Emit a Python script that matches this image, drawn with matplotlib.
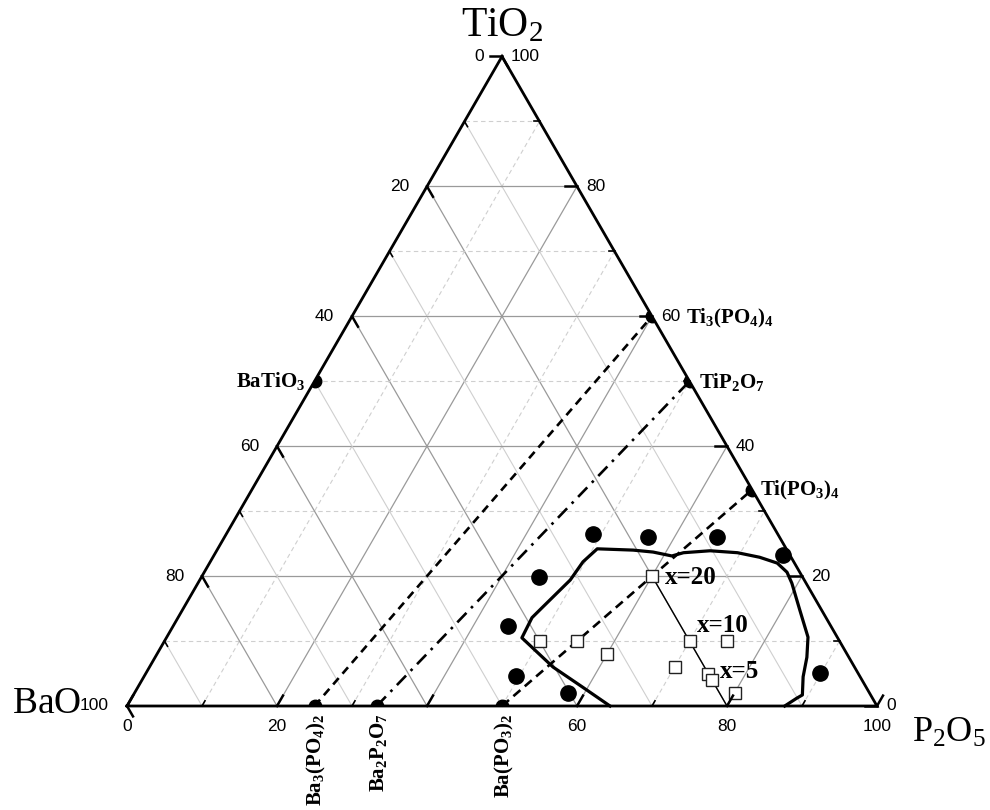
import numpy as np
import matplotlib
matplotlib.use('Agg')
import matplotlib.pyplot as plt
from matplotlib.patches import Polygon

plt.rcParams['mathtext.fontset'] = 'custom'
plt.rcParams['mathtext.rm'] = 'Liberation Serif'
plt.rcParams['mathtext.bf'] = 'Liberation Serif:bold'
plt.rcParams['mathtext.it'] = 'Liberation Serif:italic'

# ---- data (mol %, P2O5 and TiO2; BaO is the rest) ----
edge_names = [r'$\mathbf{BaTiO_3}$', r'$\mathbf{Ti_3(PO_4)_4}$', r'$\mathbf{TiP_2O_7}$',
              r'$\mathbf{Ti(PO_3)_4}$', r'$\mathbf{Ba_3(PO_4)_2}$', r'$\mathbf{Ba_2P_2O_7}$',
              r'$\mathbf{Ba(PO_3)_2}$']
edge_p2o5 = [0, 40, 50, 66.7, 25, 33.3, 50]
edge_tio2 = [50, 60, 50, 33.3, 0, 0, 0]

# tie lines: (index of BaO-P2O5 compound, index of TiO2-P2O5 compound, style)
tie_lines = [(4, 1, (0, (3.2, 2.2))), (5, 2, (0, (5, 2.5, 1, 2.5))), (6, 3, (0, (3.5, 2.2)))]

# glass-forming compositions (filled circles)
glass_p2o5 = [48.9, 56.5, 65.7, 75.9, 45.0, 44.6, 49.6, 57.8, 89.9]
glass_tio2 = [26.5, 26.0, 26.0, 23.2, 19.9, 12.3, 4.6, 2.0, 5.1]

# studied compositions (open squares)
sq_p2o5 = [60, 50, 55, 60, 70, 75, 70, 75, 76, 80]
sq_tio2 = [20, 10, 10, 8, 10, 10, 6, 5, 4, 2]

# x series line (BaO = 20)
xs_p2o5 = [60, 80]
xs_tio2 = [20, 0]

# glass region boundary
bnd_p2o5 = [64.4, 59.3, 53.8, 47.4, 47.2, 47.8, 49.4, 49.7, 50.6, 55.5, 58.3, 61.1, 62.4,
            65.8, 69.6, 72.9, 75.7, 77.7, 79.2, 82.3, 85.5, 86.9, 87.9, 89.2, 88.7, 87.7]
bnd_tio2 = [0.0, 2.9, 6.0, 10.5, 13.6, 15.2, 19.4, 22.2, 24.2, 24.0, 23.7, 23.1, 23.6,
            23.9, 23.6, 22.9, 22.0, 20.6, 18.9, 14.8, 10.6, 7.5, 4.5, 1.7, 1.2, 0.0]

bottom_labels = [0, 20, 60, 80, 100]
left_labels = [0, 20, 40, 60, 80, 100]
right_labels = [0, 20, 40, 60, 80, 100]

S3 = np.sqrt(3) / 2
PX = 1 / 750.0  # one pixel in data units


def tern(p, t):
    p = np.asarray(p, float)
    t = np.asarray(t, float)
    return p / 100 + t / 200, t / 100 * S3


fig = plt.figure(figsize=(9.9, 8.1), dpi=100)
ax = fig.add_axes([0, 0, 1, 1])
ax.set_xlim(-127 * PX, (990 - 127) * PX)
ax.set_ylim((706 - 810) * PX, 706 * PX)
ax.axis('off')

corners = np.array([[0, 0], [1, 0], [0.5, S3]])
clip = Polygon(corners, closed=True, transform=ax.transData, fc='none', ec='none')
ax.add_patch(clip)

# grid
for v in range(10, 100, 10):
    major = v % 20 == 0
    col = '#9a9a9a' if major else '#cfcfcf'
    lw = 0.9 if major else 0.8
    dash = '-' if major else (0, (4, 3))
    x, y = tern([0, 100 - v], [v, v])
    ax.plot(x, y, color=col, lw=lw, ls=dash, zorder=1)
    x, y = tern([v, v], [0, 100 - v])
    ax.plot(x, y, color=col, lw=lw, ls=dash, zorder=1)
    x, y = tern([0, 100 - v], [100 - v, 0])
    ax.plot(x, y, color=col, lw=lw, ls='-', zorder=1)

# ticks
for v in range(0, 101, 10):
    major = v % 20 == 0
    L = (12 if major else 6) * PX
    lw = 1.8 if major else 1.2
    x0, y0 = tern(v, 0)
    ax.plot([x0, x0 + 0.5 * L], [y0, y0 + S3 * L], color='k', lw=lw, zorder=6)
    x0, y0 = tern(100 - v, v)
    ax.plot([x0, x0 - L], [y0, y0], color='k', lw=lw, zorder=6)
    x0, y0 = tern(0, 100 - v)
    ax.plot([x0, x0 + 0.5 * L], [y0, y0 - S3 * L], color='k', lw=lw, zorder=6)

tick_font = dict(family='Liberation Sans', fontsize=12.5)
for v in bottom_labels:
    x0, y0 = tern(v, 0)
    ax.text(x0, y0 - 13 * PX, str(v), ha='center', va='top', **tick_font)
for v in left_labels:
    x0, y0 = tern(0, 100 - v)
    ax.text(x0 - 18 * PX, y0, str(v), ha='right', va='center', **tick_font)
for v in right_labels:
    x0, y0 = tern(100 - v, v)
    ax.text(x0 + 9 * PX, y0, str(v), ha='left', va='center', **tick_font)

# triangle frame
ax.plot([0, 1, 0.5, 0], [0, 0, S3, 0], color='k', lw=2.0, zorder=7,
        solid_joinstyle='miter')

# corner titles
ax.text(0.5, 680 * PX, r'$\mathrm{TiO_2}$', ha='center', va='center',
        family='Liberation Serif', fontsize=30)
ax.text(-115 * PX, 2 * PX, r'$\mathrm{BaO}$', ha='left', va='center',
        family='Liberation Serif', fontsize=27)
ax.text(785 * PX, -27 * PX, r'$\mathrm{P_2O_5}$', ha='left', va='center',
        family='Liberation Serif', fontsize=26)

# tie lines
for i, j, ls in tie_lines:
    x, y = tern([edge_p2o5[i], edge_p2o5[j]], [edge_tio2[i], edge_tio2[j]])
    ax.plot(x, y, color='k', lw=1.9, ls=ls, zorder=3)

# glass region boundary
x, y = tern(bnd_p2o5, bnd_tio2)
ax.plot(x, y, color='k', lw=2.3, zorder=4, solid_joinstyle='round')

# x series line
x, y = tern(xs_p2o5, xs_tio2)
ax.plot(x, y, color='k', lw=1.0, zorder=4)

# compound points on the edges, clipped to the triangle
x, y = tern(edge_p2o5, edge_tio2)
pts, = ax.plot(x, y, 'o', ms=9, color='k', zorder=5)
pts.set_clip_path(clip)

# glass compositions
x, y = tern(glass_p2o5, glass_tio2)
ax.plot(x, y, 'o', ms=11, color='k', zorder=5)

# squares
x, y = tern(sq_p2o5, sq_tio2)
ax.plot(x, y, 's', ms=9, mfc='white', mec='#222222', mew=1.0, zorder=5)

# compound labels
lab_font = dict(fontsize=15)
ax.text(-(127 - 305) * PX, (706 - 381) * PX, edge_names[0], ha='right', va='center', **lab_font)
ax.text((686 - 127) * PX, (706 - 318) * PX, edge_names[1], ha='left', va='center', **lab_font)
ax.text((699 - 127) * PX, (706 - 382) * PX, edge_names[2], ha='left', va='center', **lab_font)
ax.text((760 - 127) * PX, (706 - 490) * PX, edge_names[3], ha='left', va='center', **lab_font)
for k in (4, 5, 6):
    x0, y0 = tern(edge_p2o5[k], 0)
    ax.text(x0 + 2 * PX, y0 - 8 * PX, edge_names[k], ha='center', va='top', rotation=90, **lab_font)

x_font = dict(family='Liberation Serif', fontweight='bold', fontsize=18)
ax.text((665 - 127) * PX, (706 - 577) * PX, 'x=20', ha='left', va='center', **x_font)
ax.text((697 - 127) * PX, (706 - 625) * PX, 'x=10', ha='left', va='center', **x_font)
ax.text((720 - 127) * PX, (706 - 671) * PX, 'x=5', ha='left', va='center', **x_font)

fig.savefig('out.png', dpi=100, facecolor='white')
